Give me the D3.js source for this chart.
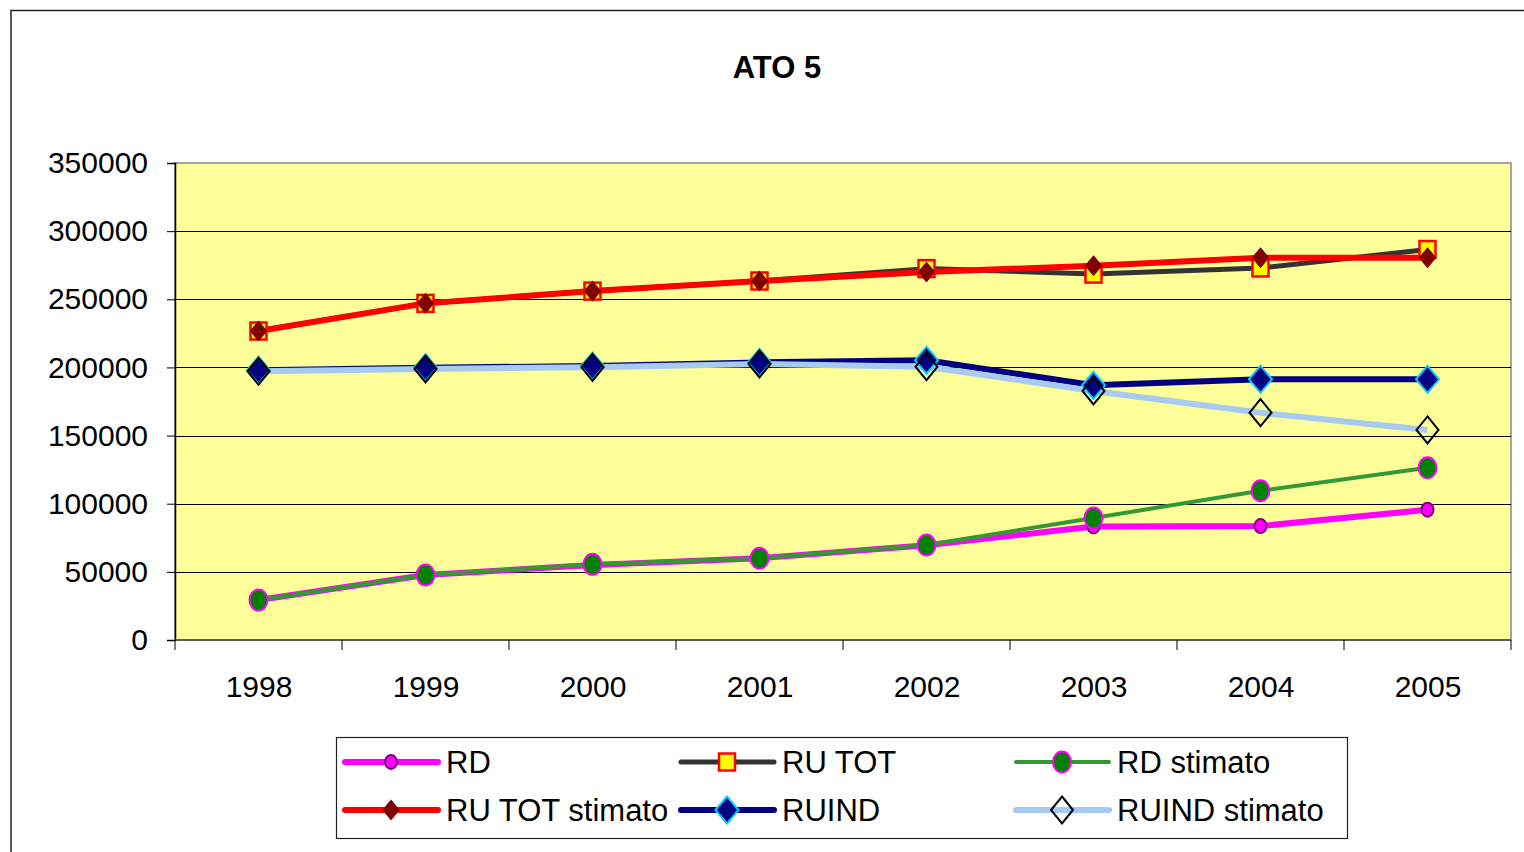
<!DOCTYPE html>
<html>
<head>
<meta charset="utf-8">
<script src="https://cdn.jsdelivr.net/npm/d3@7"></script>
<style>
  html, body { margin: 0; padding: 0; background: #fff; }
  svg { display: block; font-family: "Liberation Sans", Arial, sans-serif; }
</style>
</head>
<body>
<div id="chart"></div>
<script>
// data
const years = ["1998", "1999", "2000", "2001", "2002", "2003", "2004", "2005"];
const rd = [29300, 47700, 55000, 60000, 69500, 83300, 83600, 95600];
const ruTot = [226700, 247000, 256000, 263400, 272500, 268500, 273000, 286500];
const rdStimato = [29300, 47700, 55500, 60000, 69700, 89500, 109500, 126400];
const ruTotStimato = [226700, 247000, 256000, 263400, 270000, 274600, 280500, 280500];
const ruind = [198000, 199800, 201000, 203700, 205300, 186900, 191300, 191300];
const ruindStimato = [197200, 198900, 200100, 202600, 200500, 182700, 166800, 154100];
const yTicks = [0, 50000, 100000, 150000, 200000, 250000, 300000, 350000];

const series = [
  {name: "RD", values: rd, stroke: "#ff00ff", width: 6, marker: "circle", mw: 12, mh: 14, fill: "#ff00ff", mstroke: "#800080"},
  {name: "RU TOT", values: ruTot, stroke: "#333333", width: 5, marker: "square", mw: 16, mh: 17, fill: "#ffff00", mstroke: "#ff0000"},
  {name: "RD stimato", values: rdStimato, stroke: "#339933", width: 4, marker: "circle", mw: 18, mh: 21, fill: "#008000", mstroke: "#ff00ff"},
  {name: "RU TOT stimato", values: ruTotStimato, stroke: "#ff0000", width: 6, marker: "diamond", mw: 15, mh: 18, fill: "#800000", mstroke: "#800000"},
  {name: "RUIND", values: ruind, stroke: "#000080", width: 6, marker: "diamond", mw: 23, mh: 27, fill: "#000080", mstroke: "#00ccff"},
  {name: "RUIND stimato", values: ruindStimato, stroke: "#a6caf0", width: 6, marker: "diamond", mw: 22, mh: 27, fill: "none", mstroke: "#000000"}
];

const W = 1524, H = 852;
const plot = {left: 175, top: 163, right: 1511, bottom: 640};

const svg = d3.select("#chart").append("svg")
  .attr("width", W)
  .attr("height", H);

// outer chart frame (runs off the right and bottom edges)
svg.append("rect")
  .attr("x", 11).attr("y", 10.5)
  .attr("width", W + 20).attr("height", H + 20)
  .attr("fill", "#fff")
  .attr("stroke", "#222").attr("stroke-width", 1.5);

svg.append("text")
  .attr("x", 777).attr("y", 78)
  .attr("text-anchor", "middle")
  .style("font-size", "31px").style("font-weight", "bold")
  .text("ATO 5");

const x = d3.scalePoint().domain(years).range([plot.left, plot.right]).padding(0.5);
const xBand = d3.scaleBand().domain(years).range([plot.left, plot.right]);
const y = d3.scaleLinear().domain([0, 350000]).range([plot.bottom, plot.top]);

// plot area
svg.append("rect")
  .attr("x", plot.left).attr("y", plot.top)
  .attr("width", plot.right - plot.left).attr("height", plot.bottom - plot.top)
  .attr("fill", "#ffff99")
  .attr("stroke", "#888").attr("stroke-width", 1.5);

// gridlines
svg.append("g")
  .selectAll("line")
  .data(yTicks.filter(d => d > 0 && d < 350000))
  .join("line")
  .attr("x1", plot.left).attr("x2", plot.right)
  .attr("y1", d => Math.round(y(d)) + 0.5).attr("y2", d => Math.round(y(d)) + 0.5)
  .attr("stroke", "#000").attr("stroke-width", 1);

// y axis
const yAxis = svg.append("g")
  .attr("transform", `translate(${plot.left},0)`)
  .call(d3.axisLeft(y).tickValues(yTicks).tickFormat(d => d).tickSize(8).tickPadding(19));
yAxis.select(".domain").attr("stroke", "#000").attr("stroke-width", 1.5);
yAxis.selectAll(".tick line").attr("stroke", "#000");
yAxis.selectAll("text")
  .style("font-size", "30px").attr("fill", "#000")
  .attr("font-family", "Liberation Sans, Arial, sans-serif");

// x axis: baseline, boundary ticks, labels
svg.append("line")
  .attr("x1", plot.left).attr("x2", plot.right)
  .attr("y1", plot.bottom).attr("y2", plot.bottom)
  .attr("stroke", "#444").attr("stroke-width", 1.5);

const xTickPos = years.map(d => xBand(d)).concat([plot.right]);
svg.append("g")
  .selectAll("line")
  .data(xTickPos)
  .join("line")
  .attr("x1", d => d).attr("x2", d => d)
  .attr("y1", plot.bottom).attr("y2", plot.bottom + 10)
  .attr("stroke", "#000").attr("stroke-width", 1);

const xAxis = svg.append("g")
  .attr("transform", `translate(0,${plot.bottom})`)
  .call(d3.axisBottom(x).tickSize(0).tickPadding(36));
xAxis.select(".domain").remove();
xAxis.selectAll("text")
  .style("font-size", "30px").attr("fill", "#000")
  .attr("font-family", "Liberation Sans, Arial, sans-serif");

// markers
function drawMarker(g, s, cx, cy) {
  if (s.marker === "circle") {
    g.append("ellipse")
      .attr("cx", cx).attr("cy", cy)
      .attr("rx", s.mw / 2).attr("ry", s.mh / 2)
      .attr("fill", s.fill).attr("stroke", s.mstroke).attr("stroke-width", 2);
  } else if (s.marker === "square") {
    g.append("rect")
      .attr("x", cx - s.mw / 2).attr("y", cy - s.mh / 2)
      .attr("width", s.mw).attr("height", s.mh)
      .attr("fill", s.fill).attr("stroke", s.mstroke).attr("stroke-width", 2.5);
  } else {
    const hw = s.mw / 2, hh = s.mh / 2;
    g.append("path")
      .attr("d", `M${cx},${cy - hh}L${cx + hw},${cy}L${cx},${cy + hh}L${cx - hw},${cy}Z`)
      .attr("fill", s.fill).attr("stroke", s.mstroke).attr("stroke-width", 2);
  }
}

const line = d3.line()
  .x((d, i) => x(years[i]))
  .y(d => y(d));

const linesG = svg.append("g");
series.forEach(s => {
  linesG.append("path")
    .datum(s.values)
    .attr("d", line)
    .attr("fill", "none")
    .attr("stroke", s.stroke)
    .attr("stroke-width", s.width)
    .attr("stroke-linejoin", "round");
});

const markersG = svg.append("g");
series.forEach(s => {
  s.values.forEach((v, i) => drawMarker(markersG, s, x(years[i]), y(v)));
});

// legend
const legend = svg.append("g");
legend.append("rect")
  .attr("x", 336.5).attr("y", 737.5)
  .attr("width", 1011).attr("height", 101)
  .attr("fill", "#fff").attr("stroke", "#222").attr("stroke-width", 1.2);

const colX = [345, 681, 1016];
const rowY = [762, 810];
series.forEach((s, i) => {
  const lx = colX[i % 3], ly = rowY[Math.floor(i / 3)];
  const g = legend.append("g");
  g.append("line")
    .attr("x1", lx).attr("x2", lx + 93)
    .attr("y1", ly).attr("y2", ly)
    .attr("stroke", s.stroke).attr("stroke-width", s.width)
    .attr("stroke-linecap", "round");
  drawMarker(g, s, lx + 46, ly);
  g.append("text")
    .attr("x", lx + 101).attr("y", ly)
    .attr("dy", "0.36em")
    .style("font-size", "31px")
    .text(s.name);
});
</script>
</body>
</html>
